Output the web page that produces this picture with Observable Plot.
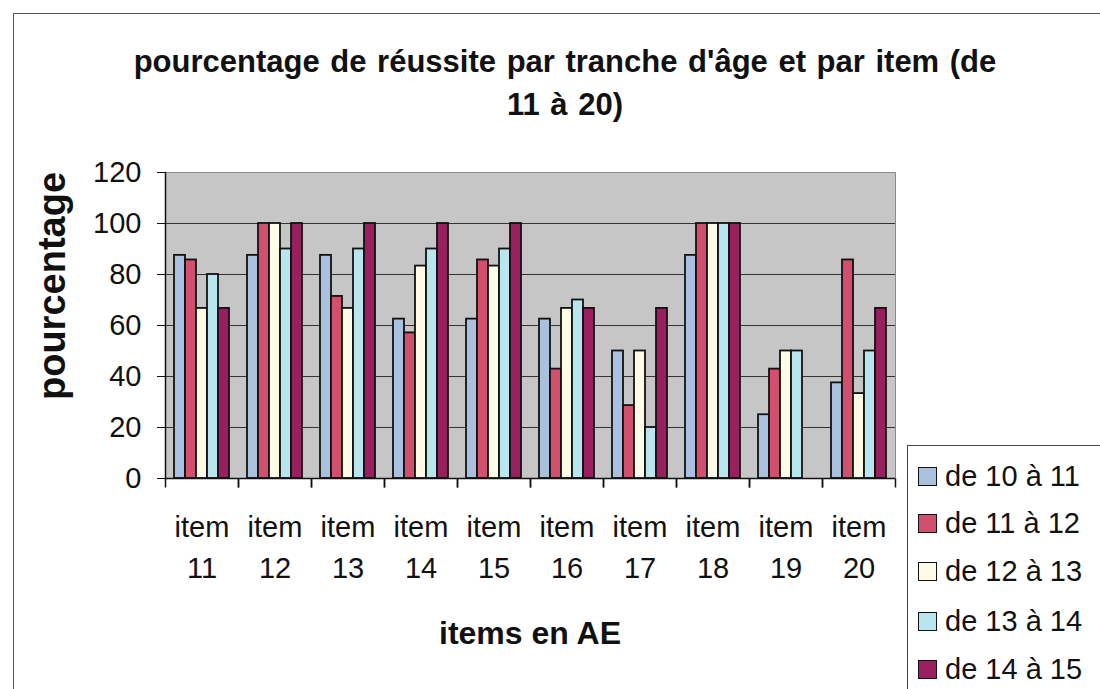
<!DOCTYPE html>
<html>
<head>
<meta charset="utf-8">
<script src="https://cdn.jsdelivr.net/npm/d3@7"></script>
<script src="https://cdn.jsdelivr.net/npm/@observablehq/plot@0.6"></script>
<style>
  html, body { margin: 0; padding: 0; background: #fff; width: 1100px; height: 689px; overflow: hidden; }
  body { position: relative; font-family: "Liberation Sans", Arial, sans-serif; color: #111; }
  #outer { position: absolute; left: 13px; top: 13px; width: 1120px; height: 720px; border: 1.5px solid #555; box-sizing: border-box; }
  #title { position: absolute; left: 0; top: 40px; width: 1130px; text-align: center; font-weight: bold; font-size: 31px; word-spacing: 2px; line-height: 43px; }
  #ylabel { position: absolute; left: 52px; top: 286px; transform: translate(-50%, -50%) rotate(-90deg); font-weight: bold; font-size: 38px; white-space: nowrap; }
  #xlabel { position: absolute; left: 530px; top: 633px; transform: translate(-50%, -50%); font-weight: bold; font-size: 32px; white-space: nowrap; }
  #chart { position: absolute; left: 0; top: 140px; }
  #legend { position: absolute; left: 907px; top: 445px; width: 260px; height: 300px; border: 1.5px solid #444; box-sizing: border-box; background: #fff; }
  .entry { position: absolute; left: 10px; height: 40px; display: flex; align-items: center; font-size: 29px; white-space: nowrap; }
  .sw { width: 19px; height: 19px; border: 1.5px solid #111; margin-right: 8px; box-sizing: border-box; }
</style>
</head>
<body>
<div id="outer"></div>
<div id="title">pourcentage de réussite par tranche d'âge et par item (de<br>11 à 20)</div>
<div id="chart"></div>
<div id="ylabel">pourcentage</div>
<div id="xlabel">items en AE</div>
<div id="legend"></div>
<script>
// ---- data ----
const items = ["11", "12", "13", "14", "15", "16", "17", "18", "19", "20"];
const series = ["de 10 à 11", "de 11 à 12", "de 12 à 13", "de 13 à 14", "de 14 à 15"];
const colors = ["#a9c1df", "#d24f6d", "#fffbe6", "#b8e5ee", "#9a1f5e"];
const age10_11 = [87.5, 87.5, 87.5, 62.5, 62.5, 62.5, 50, 87.5, 25, 37.5];
const age11_12 = [85.7, 100, 71.4, 57.1, 85.7, 42.9, 28.6, 100, 42.9, 85.7];
const age12_13 = [66.7, 100, 66.7, 83.3, 83.3, 66.7, 50, 100, 50, 33.3];
const age13_14 = [80, 90, 90, 90, 90, 70, 20, 100, 50, 50];
const age14_15 = [66.7, 100, 100, 100, 100, 66.7, 66.7, 100, 0, 66.7];
const yTicks = [0, 20, 40, 60, 80, 100, 120];

const valueSets = [age10_11, age11_12, age12_13, age13_14, age14_15];
const data = items.flatMap((item, i) => series.map((serie, k) => ({item, serie, value: valueSets[k][i]})));

const tickSym = {draw(ctx) { ctx.moveTo(0, 0); ctx.lineTo(0, 9); }};

const chart = Plot.plot({
  width: 1100,
  height: 549,
  marginLeft: 164,
  marginRight: 205,
  marginTop: 32,
  marginBottom: 211,
  style: {fontFamily: "'Liberation Sans', Arial, sans-serif", fontSize: "29px", color: "#111", background: "transparent"},
  fx: {domain: items, paddingInner: 0, paddingOuter: 0, label: null},
  x: {domain: series, paddingInner: 0, paddingOuter: 0.76, axis: null},
  y: {domain: [0, 120], label: null},
  color: {domain: series, range: colors},
  marks: [
    Plot.frame({facet: "super", fill: "#c6c6c6", stroke: "#8a8a8a"}),
    Plot.ruleY(yTicks.filter(d => d > 0 && d < 120), {stroke: "#333", strokeWidth: 1}),
    Plot.barY(data, {fx: "item", x: "serie", y: "value", fill: "serie", stroke: "#111", strokeWidth: 1.8}),
    Plot.ruleY([0], {stroke: "#111", strokeWidth: 1.5}),
    Plot.frame({facet: "super", anchor: "left", stroke: "#111", strokeWidth: 1.5}),
    Plot.axisY({ticks: yTicks, tickSize: 8, tickPadding: 16, fontSize: 29, label: null, stroke: "#111"}),
    Plot.axisFx({anchor: "bottom", tickSize: 0, tickPadding: 30, fontSize: 29, lineHeight: 1.4, tickFormat: d => `item\n${d}`, label: null}),
    Plot.dot(items, {fx: d => d, frameAnchor: "bottom-left", symbol: tickSym, stroke: "#111", strokeWidth: 1.5, r: 4}),
    Plot.dot(items, {fx: d => d, frameAnchor: "bottom-right", symbol: tickSym, stroke: "#111", strokeWidth: 1.5, r: 4})
  ]
});
document.getElementById("chart").appendChild(chart);

// legend
const legend = document.getElementById("legend");
const legendTops = [10, 57, 105, 155, 203];
series.forEach((s, k) => {
  const e = document.createElement("div");
  e.className = "entry";
  e.style.top = legendTops[k] + "px";
  const sw = document.createElement("span");
  sw.className = "sw";
  sw.style.background = colors[k];
  e.appendChild(sw);
  e.appendChild(document.createTextNode(s));
  legend.appendChild(e);
});
</script>
</body>
</html>
